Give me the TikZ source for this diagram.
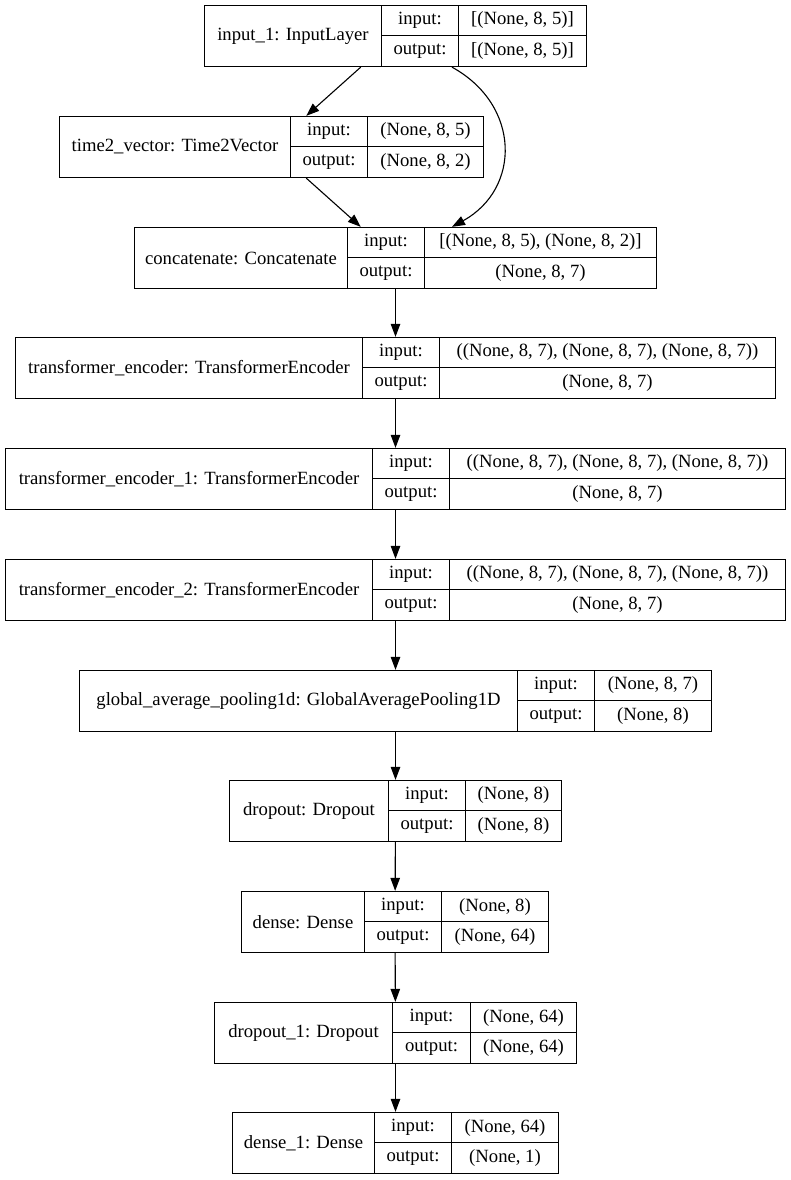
\documentclass[tikz,border=0pt]{standalone}
\usepackage{fontspec}
\setmainfont{Liberation Serif}
\newfontfamily\recordfont{Liberation Serif}
\usetikzlibrary{arrows.meta}

% one Keras layer as a record: name | input:/output: | shapes
% #1 id, #2 left, #3 top, #4 first split, #5 second split, #6 right, #7 layer, #8 input, #9 output
\newcommand{\kerasbox}[9]{%
  \node[layer, minimum width={(#6-#2)*1pt}] (#1) at ({(#2+#6)/2},{#3+30.5}) {};
  \node[cell, minimum width={(#4-#2)*1pt}, minimum height=61pt] (#1-name) at ({(#2+#4)/2},{#3+30.5}) {#7};
  \node[cell, minimum width={(#5-#4)*1pt}] (#1-inlbl) at ({(#4+#5)/2},{#3+15}) {input:};
  \node[cell, minimum width={(#5-#4)*1pt}, minimum height=31pt] (#1-outlbl) at ({(#4+#5)/2},{#3+45.5}) {output:};
  \node[cell, minimum width={(#6-#5)*1pt}] (#1-in) at ({(#5+#6)/2},{#3+15}) {#8};
  \node[cell, minimum width={(#6-#5)*1pt}, minimum height=31pt] (#1-out) at ({(#5+#6)/2},{#3+45.5}) {#9};
  \draw[rule] (#1-name.north east) -- (#1-name.south east);
  \draw[rule] (#1-inlbl.north east) -- (#1-outlbl.south east);
  \draw[rule] (#1-inlbl.south west) -- (#1-in.south east);
}

\begin{document}
\begin{tikzpicture}[x=1pt, y=-1pt,
    cell/.style={inner sep=0pt, minimum height=30pt,
      font=\recordfont\fontsize{18.67pt}{22pt}\selectfont},
    layer/.style={draw, line width=1.3pt, inner sep=0pt, minimum height=61pt},
    rule/.style={line width=1.3pt},
    edge/.style={-{Triangle[length=13pt, width=9.5pt]}, line width=1.1pt}]
  \useasboundingbox (0,0) rectangle (791,1180);

  % layers, top to bottom
  \kerasbox{input}{204.5}{5.5}{381.5}{458.5}{586.5}{input\_1: InputLayer}{[(None, 8, 5)]}{[(None, 8, 5)]}
  \kerasbox{timevec}{59.5}{116.5}{290.5}{367.5}{483.5}{time2\_vector: Time2Vector}{(None, 8, 5)}{(None, 8, 2)}
  \kerasbox{concat}{134.5}{227.5}{347.5}{424.5}{656.5}{concatenate: Concatenate}{[(None, 8, 5), (None, 8, 2)]}{(None, 8, 7)}
  \kerasbox{enc}{15.5}{337.5}{362.5}{439.5}{775.5}{transformer\_encoder: TransformerEncoder}{((None, 8, 7), (None, 8, 7), (None, 8, 7))}{(None, 8, 7)}
  \kerasbox{encA}{5.5}{448.5}{372.5}{449.5}{785.5}{transformer\_encoder\_1: TransformerEncoder}{((None, 8, 7), (None, 8, 7), (None, 8, 7))}{(None, 8, 7)}
  \kerasbox{encB}{5.5}{559.5}{372.5}{449.5}{785.5}{transformer\_encoder\_2: TransformerEncoder}{((None, 8, 7), (None, 8, 7), (None, 8, 7))}{(None, 8, 7)}
  \kerasbox{pool}{79.5}{670.5}{517.5}{594.5}{711.5}{global\_average\_pooling1d: GlobalAveragePooling1D}{(None, 8, 7)}{(None, 8)}
  \kerasbox{drop}{229.5}{780.5}{388.5}{465.5}{561.5}{dropout: Dropout}{(None, 8)}{(None, 8)}
  \kerasbox{dense}{241.5}{891.5}{364.5}{441.5}{548.5}{dense: Dense}{(None, 8)}{(None, 64)}
  \kerasbox{dropA}{214.5}{1002.5}{392.5}{470.5}{576.5}{dropout\_1: Dropout}{(None, 64)}{(None, 64)}
  \kerasbox{denseA}{232.5}{1112.5}{374.5}{451.5}{558.5}{dense\_1: Dense}{(None, 64)}{(None, 1)}

  % connections
  \draw[edge] (input) -- (timevec);
  \draw[edge] (timevec) -- (concat);
  \draw[edge] ([xshift=56.5pt]input.south) .. controls +(69,38) and +(69,-38) .. ([xshift=56.5pt]concat.north);
  \draw[edge] (concat) -- (enc);
  \draw[edge] (enc) -- (encA);
  \draw[edge] (encA) -- (encB);
  \draw[edge] (encB) -- (pool);
  \draw[edge] (pool) -- (drop);
  \draw[edge] (drop) -- (dense);
  \draw[edge] (dense) -- (dropA);
  \draw[edge] (dropA) -- (denseA);
\end{tikzpicture}
\end{document}
